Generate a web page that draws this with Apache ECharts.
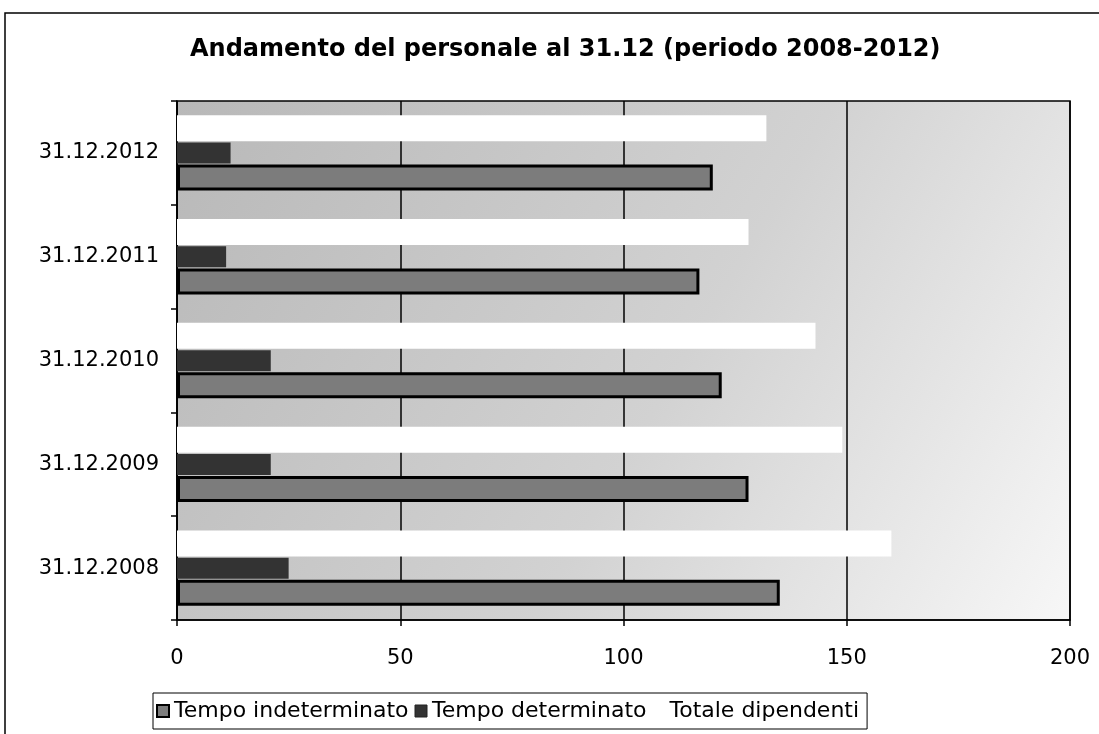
<!DOCTYPE html>
<html>
<head>
<meta charset="utf-8">
<script src="https://cdn.jsdelivr.net/npm/echarts@6/dist/echarts.min.js"></script>
<style>
html,body{margin:0;padding:0;background:#fff;}
#c{width:1099px;height:734px;}
</style>
</head>
<body>
<div id="c"></div>
<script>
const categories = ['31.12.2008', '31.12.2009', '31.12.2010', '31.12.2011', '31.12.2012'];
const tempoIndeterminato = [135, 128, 122, 117, 120];
const tempoDeterminato = [25, 21, 21, 11, 12];
const totaleDipendenti = [160, 149, 143, 128, 132];
const seriesNames = ['Tempo indeterminato', 'Tempo determinato', 'Totale dipendenti'];
const xTicks = { min: 0, max: 200, interval: 50 };

const chart = echarts.init(document.getElementById('c'), null, { renderer: 'canvas' });
const FONT = 'DejaVu Sans';

const option = {
  backgroundColor: '#ffffff',
  animation: false,
  title: {
    text: 'Andamento del personale al 31.12 (periodo 2008-2012)',
    left: 185,
    top: 33,
    textStyle: { fontFamily: FONT, fontWeight: 'bold', fontSize: 24, color: '#000' }
  },
  graphic: [
    {
      type: 'rect',
      shape: { x: 5, y: 13, width: 1200, height: 800 },
      style: { fill: 'none', stroke: '#000', lineWidth: 1.5 },
      silent: true,
      z: -10
    }
  ],
  legend: {
    data: [
      { name: seriesNames[0], itemStyle: { borderColor: '#000', borderWidth: 2 } },
      { name: seriesNames[1], itemStyle: { borderColor: '#222', borderWidth: 1 } },
      { name: seriesNames[2] }
    ],
    left: 153,
    top: 693,
    orient: 'horizontal',
    padding: [7, 8, 7, 3],
    itemGap: 6,
    itemWidth: 12,
    itemHeight: 12,
    borderColor: '#000',
    borderWidth: 1,
    backgroundColor: '#fff',
    icon: 'rect',
    textStyle: { fontFamily: FONT, fontSize: 22, color: '#000' }
  },
  grid: {
    left: 177,
    top: 101,
    right: 29,
    bottom: 114,
    show: true,
    borderColor: '#000',
    borderWidth: 1.5,
    backgroundColor: new echarts.graphic.LinearGradient(0, 0, 1, 1, [
      { offset: 0, color: '#b8b8b8' },
      { offset: 0.55, color: '#d2d2d2' },
      { offset: 1, color: '#f7f7f7' }
    ])
  },
  xAxis: {
    type: 'value',
    min: xTicks.min,
    max: xTicks.max,
    interval: xTicks.interval,
    axisLine: { show: true, lineStyle: { color: '#000', width: 1.5 } },
    axisTick: { show: true, length: 6, lineStyle: { color: '#000', width: 1.5 } },
    splitLine: { show: true, lineStyle: { color: '#000', width: 1.5 } },
    axisLabel: { fontFamily: FONT, fontSize: 21, color: '#000', margin: 28 }
  },
  yAxis: {
    type: 'category',
    data: categories,
    axisLine: { show: true, lineStyle: { color: '#000', width: 1.5 } },
    axisTick: { show: true, length: 6, lineStyle: { color: '#000', width: 1.5 } },
    splitLine: { show: false },
    axisLabel: { fontFamily: FONT, fontSize: 21, color: '#000', margin: 18 }
  },
  series: [
    {
      name: seriesNames[2],
      type: 'bar',
      data: totaleDipendenti,
      barWidth: 26,
      barGap: '5%',
      itemStyle: { color: '#ffffff' },
      z: 2
    },
    {
      name: seriesNames[1],
      type: 'bar',
      data: tempoDeterminato,
      barWidth: 21,
      barGap: '5%',
      itemStyle: { color: '#333333' },
      z: 2
    },
    {
      name: seriesNames[0],
      type: 'bar',
      data: tempoIndeterminato,
      barWidth: 26,
      barGap: '5%',
      itemStyle: { color: '#7c7c7c', borderColor: '#000', borderWidth: 3 },
      z: 3
    }
  ]
};
chart.setOption(option);
</script>
</body>
</html>
